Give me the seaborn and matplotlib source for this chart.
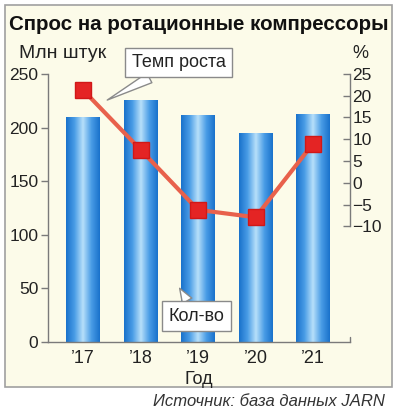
import numpy as np
import pandas as pd
import seaborn as sns
from matplotlib import pyplot as plt
from matplotlib.colors import LinearSegmentedColormap
from matplotlib.patches import Rectangle

years = ["\u201917", "\u201918", "\u201919", "\u201920", "\u201921"]
volume = [210, 226, 212, 195, 213]          # млн штук
growth = [21.3, 7.6, -6.2, -7.9, 9.0]       # %
left_ticks = [0, 50, 100, 150, 200, 250]
right_ticks = [-10, -5, 0, 5, 10, 15, 20, 25]

CREAM = '#fcfbe9'
AXIS = '#7a7a7a'
TXT = '#222222'

sns.set_style('white')
plt.rcParams['font.family'] = ['Liberation Sans', 'DejaVu Sans']

fig = plt.figure(figsize=(3.97, 4.20), dpi=100)
fig.patch.set_facecolor('white')
fig.add_artist(Rectangle((5 / 397, 1 - 387 / 420), 387 / 397, 382 / 420,
                         transform=fig.transFigure, fc=CREAM, ec='#a0a0a0',
                         lw=1.2, zorder=-1))

ax = fig.add_axes([0.121, 0.186, 0.76, 0.638])
ax.set_facecolor('none')

df = pd.DataFrame({'year': years, 'volume': volume})
sns.barplot(data=df, x='year', y='volume', color='#2a86d8', width=0.58,
            saturation=1, ax=ax)

# gradient fill for the cylinders
cmap = LinearSegmentedColormap.from_list('cyl', ['#1a72cc', '#4a9de6', '#b8e0fa', '#4a9de6', '#1a72cc'])
grad = np.linspace(0, 1, 64).reshape(1, -1)
for p in ax.patches:
    x0, y0 = p.get_x(), p.get_y()
    w, h = p.get_width(), p.get_height()
    im = ax.imshow(grad, cmap=cmap, aspect='auto', extent=(x0, x0 + w, y0, y0 + h),
                   zorder=p.get_zorder() + 0.1)
    im.set_clip_path(p)
    p.set_edgecolor('none')

ax.set_xlim(-0.61, 4.64)
ax.set_ylim(0, 250)
ax.set_yticks(left_ticks)
ax.set_xlabel('Год', fontsize=13, color=TXT, labelpad=3)
ax.set_ylabel('')
ax.tick_params(axis='y', direction='out', length=5, width=1, color=AXIS,
               labelsize=12.5, labelcolor=TXT, pad=2, left=True)
ax.tick_params(axis='x', length=0, labelsize=13, labelcolor=TXT, pad=6)
for s in ['top', 'right']:
    ax.spines[s].set_visible(False)
for s in ['left', 'bottom']:
    ax.spines[s].set_color(AXIS)
    ax.spines[s].set_linewidth(1)
ax.axvline(4.64, ymin=0, ymax=0.02, color=AXIS, lw=1, clip_on=False)

ax2 = ax.twinx()
ax2.set_facecolor('none')
xpos = np.arange(len(years))
sns.lineplot(x=xpos, y=growth, ax=ax2, color='#e8614c', lw=3, zorder=3)
ax2.plot(xpos, growth, ls='none', marker='s', ms=11, mfc='#e42424',
         mec='#d01818', zorder=4)
ax2.set_ylim(-36.5, 25)
ax2.set_yticks(right_ticks)
ax2.set_yticklabels([str(v).replace('-', '\u2212') for v in right_ticks])
ax2.set_xlim(-0.61, 4.64)
for s in ['top', 'left', 'bottom']:
    ax2.spines[s].set_visible(False)
ax2.spines['right'].set_bounds(-10, 25)
ax2.spines['right'].set_color(AXIS)
ax2.spines['right'].set_linewidth(1)
ax2.tick_params(axis='y', direction='in', length=5, width=1, color=AXIS,
                labelsize=12.5, labelcolor=TXT, pad=2, right=True)

# callouts
box = dict(boxstyle='square,pad=0.35', fc='white', ec='#8a8a8a', lw=1)
ax2.annotate('Темп роста', xy=(0.42, 19), xytext=(1.66, 27.6),
             ha='center', va='center', fontsize=13, color=TXT, bbox=box,
             annotation_clip=False, zorder=6,
             arrowprops=dict(arrowstyle='wedge,tail_width=0.6', fc='white',
                             ec='#8a8a8a', lw=1, shrinkA=0, shrinkB=0))
ax.annotate('Кол-во', xy=(1.68, 50), xytext=(1.97, 24),
            ha='center', va='center', fontsize=13, color=TXT, bbox=box,
            annotation_clip=False, zorder=6,
            arrowprops=dict(arrowstyle='wedge,tail_width=0.6', fc='white',
                            ec='#8a8a8a', lw=1, shrinkA=0, shrinkB=0))

fig.text(9 / 397, 1 - 24 / 420, 'Спрос на ротационные компрессоры',
         fontsize=14.8, fontweight='bold', color='#111111', va='center')
fig.text(19 / 397, 1 - 54 / 420, 'Млн штук', fontsize=14, color=TXT, va='center')
fig.text(352 / 397, 1 - 53 / 420, '%', fontsize=13, color=TXT, va='center')
fig.text(385 / 397, 1 - 401 / 420, 'Источник: база данных JARN', fontsize=12,
         style='italic', color='#333333', ha='right', va='center')

fig.savefig('out.png', dpi=100, facecolor='white')
